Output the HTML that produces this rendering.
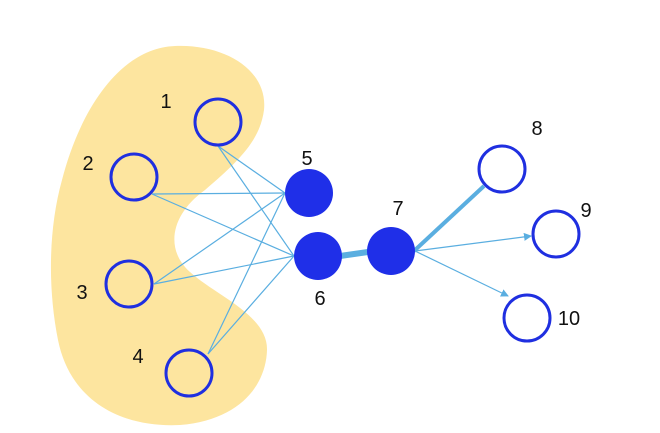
<!DOCTYPE html>
<html><head><style>html,body{margin:0;padding:0;background:#fff}</style></head><body>
<svg width="660" height="433" viewBox="0 0 660 433" xmlns="http://www.w3.org/2000/svg" style="display:block">
<defs><marker id="a" markerWidth="8" markerHeight="8" refX="7" refY="4" orient="auto" markerUnits="userSpaceOnUse"><path d="M0,0 L8,4 L0,8 z" fill="#5aaee0"/></marker></defs>
<path d="M175,46 C225,44 268,70 264,110 C260,140 240,160 205,190 C170,215 165,250 190,272 C215,295 268,315 267,350 C266,385 240,420 180,425 C120,428 70,400 58,340 C48,290 48,230 62,180 C80,110 120,48 175,46 Z" fill="#fde59f"/>
<g stroke="#5aaee0" stroke-width="1.2" fill="none">
<line x1="218" y1="146" x2="285" y2="193"/><line x1="218" y1="146" x2="294" y2="256"/>
<line x1="152" y1="194" x2="285" y2="193"/><line x1="152" y1="194" x2="294" y2="256"/>
<line x1="154" y1="284" x2="285" y2="193"/><line x1="154" y1="284" x2="294" y2="256"/>
<line x1="208" y1="354" x2="285" y2="193"/><line x1="208" y1="354" x2="294" y2="256"/>
<line x1="415" y1="251" x2="531" y2="236" marker-end="url(#a)"/>
<line x1="415" y1="251" x2="508" y2="296" marker-end="url(#a)"/>
</g>
<line x1="340" y1="256" x2="368" y2="252" stroke="#5aaee0" stroke-width="6"/>
<line x1="414" y1="251" x2="484" y2="186" stroke="#5aaee0" stroke-width="4"/>
<g fill="none" stroke="#1f2fe0" stroke-width="3">
<circle cx="218" cy="122" r="23"/><circle cx="134" cy="177" r="23"/><circle cx="129" cy="284" r="23"/><circle cx="189" cy="373" r="23"/>
<circle cx="502" cy="169" r="23"/><circle cx="556" cy="234" r="23"/><circle cx="527" cy="318" r="23"/>
</g>
<g fill="#1f2fe8"><circle cx="309" cy="193" r="24"/><circle cx="318" cy="256" r="24"/><circle cx="391" cy="251" r="24"/></g>
<g font-family="Liberation Sans, sans-serif" font-size="20" fill="#111" text-anchor="middle">
<text x="166" y="108">1</text><text x="88" y="170">2</text><text x="82" y="299">3</text><text x="138" y="363">4</text>
<text x="307" y="165">5</text><text x="320" y="305">6</text><text x="398" y="215">7</text><text x="537" y="135">8</text><text x="586" y="217">9</text><text x="569" y="325">10</text>
</g>
</svg>
</body></html>
